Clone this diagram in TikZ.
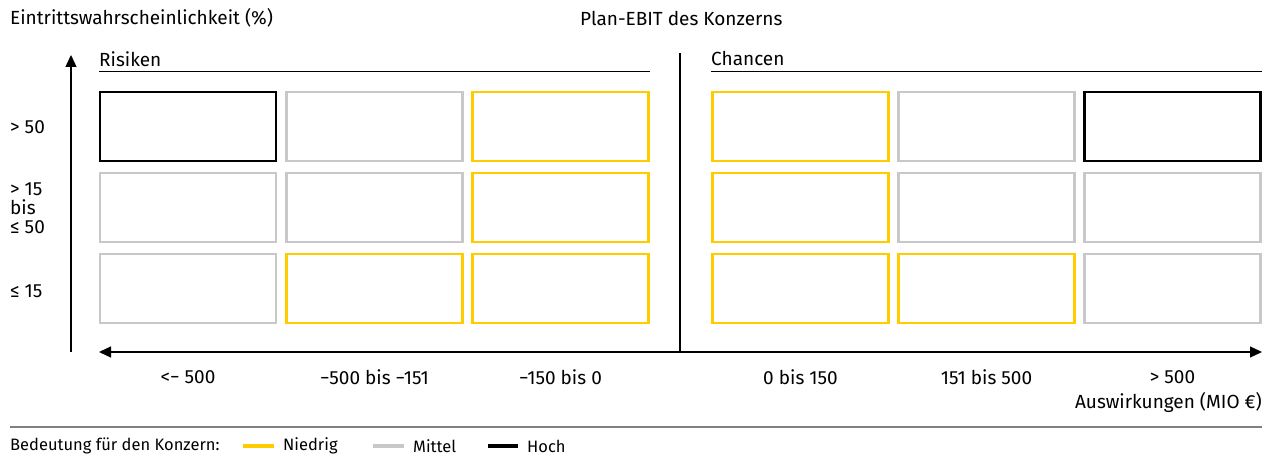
\documentclass[tikz,border=0pt]{standalone}
\usepackage{fontspec}
\setmainfont{Fira Sans}
\usetikzlibrary{arrows.meta}
\definecolor{yel}{HTML}{FFCC00}
\definecolor{gry}{HTML}{C8C8C8}
\definecolor{sep}{HTML}{808080}
\begin{document}
\begin{tikzpicture}[x=1pt,y=-1pt,
  lbl/.style={font=\fontsize{19}{19}\selectfont, inner sep=0pt, text=black},
  lgd/.style={font=\fontsize{16.5}{19}\selectfont, inner sep=0pt, text=black},
  cell/.style={draw, line width=2.5pt, minimum width=176pt, minimum height=69pt, inner sep=0pt},
  cy/.style={cell, draw=yel},
  cg/.style={cell, draw=gry},
  cb/.style={cell, draw=black},
  axis/.style={line width=1.3pt, -{Triangle[length=12pt,width=11pt]}},
  leg/.style={line width=4pt}]
\useasboundingbox (0,0) rectangle (1283,468);
% titles
\node[lbl, anchor=west] (ytitle) at (10,18) {Eintrittswahrscheinlichkeit (\%)};
\node[lbl, anchor=west] (xtitle) at (580,18) {Plan-EBIT des Konzerns};
\node[lbl, anchor=west] (ris) at (99,59) {Risiken};
\node[lbl, anchor=west] (cha) at (711,59) {Chancen};
\coordinate (rl) at (99,72); \coordinate (rr) at (650,72);
\coordinate (cl) at (711,72); \coordinate (cr) at (1262,72);
\draw[line width=1pt] (rl) -- (rr);
\draw[line width=1pt] (cl) -- (cr);
% cells
\node[cb] (a1) at (188,126.5) {};
\node[cg] (b1) at (374.5,126.5) {};
\node[cy] (c1) at (560.5,126.5) {};
\node[cy] (d1) at (800.5,126.5) {};
\node[cg] (e1) at (986.5,126.5) {};
\node[cb] (f1) at (1172.5,126.5) {};
\node[cg] (a2) at (188,207.5) {};
\node[cg] (b2) at (374.5,207.5) {};
\node[cy] (c2) at (560.5,207.5) {};
\node[cy] (d2) at (800.5,207.5) {};
\node[cg] (e2) at (986.5,207.5) {};
\node[cg] (f2) at (1172.5,207.5) {};
\node[cg] (a3) at (188,288.5) {};
\node[cy] (b3) at (374.5,288.5) {};
\node[cy] (c3) at (560.5,288.5) {};
\node[cy] (d3) at (800.5,288.5) {};
\node[cy] (e3) at (986.5,288.5) {};
\node[cg] (f3) at (1172.5,288.5) {};
% row labels
\node[lbl, anchor=west] (r1) at (10,127) {> 50};
\node[lbl, anchor=west, align=left] (r2) at (10,208) {> 15\\bis\\≤ 50};
\node[lbl, anchor=west] (r3) at (10,291) {≤ 15};
% axes
\coordinate (yb) at (71,352); \coordinate (yt) at (71,55);
\draw[axis] (yb) -- (yt);
\coordinate (xl) at (99,352); \coordinate (xr) at (1262,352);
\draw[line width=1.3pt, {Triangle[length=12pt,width=11pt]}-{Triangle[length=12pt,width=11pt]}] (xl) -- (xr);
\coordinate (dt) at (680,53); \coordinate (db) at (680,352);
\draw[line width=1.3pt] (dt) -- (db);
% column labels
\node[lbl] (l1) at (188,377) {<− 500};
\node[lbl] (l2) at (374.5,377) {−500 bis −151};
\node[lbl] (l3) at (560.5,377) {−150 bis 0};
\node[lbl] (l4) at (800.5,377) {0 bis 150};
\node[lbl] (l5) at (986.5,377) {151 bis 500};
\node[lbl] (l6) at (1172.5,377) {> 500};
\node[lbl, anchor=east] (xunit) at (1262,402) {Auswirkungen (MIO €)};
% separator
\coordinate (sl) at (10,427); \coordinate (sr) at (1262,427);
\draw[sep, line width=1.3pt] (sl) -- (sr);
% legend
\node[lgd, anchor=west] (lt) at (10,446) {Bedeutung für den Konzern:};
\coordinate (y1) at (243,446); \coordinate (y2) at (274,446);
\draw[leg, yel] (y1) -- (y2);
\node[lgd, anchor=west] (ln) at (283,446) {Niedrig};
\coordinate (g1) at (373,446); \coordinate (g2) at (404,446);
\draw[leg, gry] (g1) -- (g2);
\node[lgd, anchor=west] (lm) at (413,446) {Mittel};
\coordinate (k1) at (488,446); \coordinate (k2) at (518,446);
\draw[leg, black] (k1) -- (k2);
\node[lgd, anchor=west] (lh) at (527,446) {Hoch};
\end{tikzpicture}
\end{document}
